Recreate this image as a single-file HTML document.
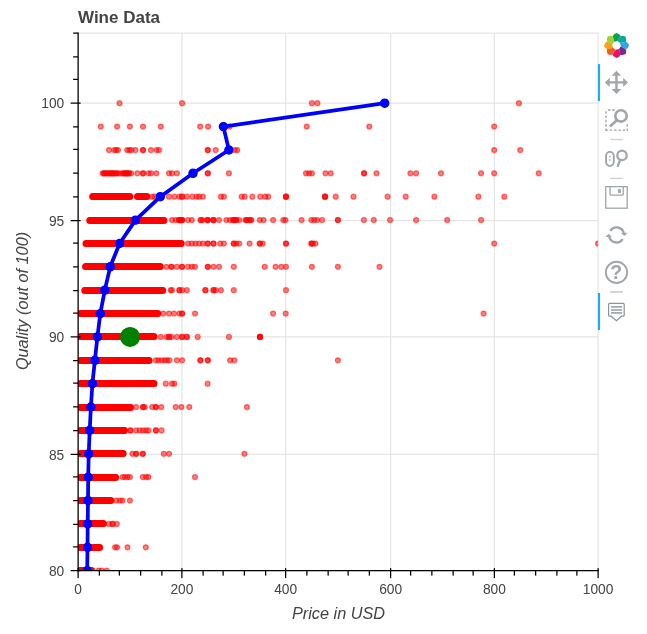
<!DOCTYPE html>
<html lang="en"><head><meta charset="utf-8"><title>Wine Data</title>
<style>html,body{margin:0;padding:0;background:#fff;}body{width:647px;height:634px;overflow:hidden;}svg{display:block;}text{font-family:"Liberation Sans",Arial,Helvetica,sans-serif;fill:#444;}</style></head><body>
<svg width="647" height="634" viewBox="0 0 647 634">
<rect width="647" height="634" fill="#fff"/>
<g stroke="#e5e5e5" stroke-width="1.25" fill="none">
<line x1="181.875" y1="33.125" x2="181.875" y2="570.625"/>
<line x1="285.625" y1="33.125" x2="285.625" y2="570.625"/>
<line x1="390.625" y1="33.125" x2="390.625" y2="570.625"/>
<line x1="494.375" y1="33.125" x2="494.375" y2="570.625"/>
<line x1="78.125" y1="454.375" x2="598.125" y2="454.375"/>
<line x1="78.125" y1="336.875" x2="598.125" y2="336.875"/>
<line x1="78.125" y1="220.625" x2="598.125" y2="220.625"/>
<line x1="78.125" y1="103.125" x2="598.125" y2="103.125"/>
<rect x="78.125" y="33.125" width="520.0" height="537.5"/>
</g>
<defs><filter id="lb" x="-20%" y="-20%" width="140%" height="140%"><feGaussianBlur stdDeviation="0.45"/></filter></defs>
<defs><clipPath id="fr"><rect x="78.125" y="33.125" width="520.0" height="537.5"/></clipPath></defs>
<g clip-path="url(#fr)">
<g fill="#ff0000" fill-opacity="0.5" stroke="#ff0000" stroke-opacity="0.5" stroke-width="1.25">
<circle cx="79.5" cy="570.6" r="2.5"/>
<circle cx="81.0" cy="570.6" r="2.5"/>
<circle cx="82.5" cy="570.6" r="2.5"/>
<circle cx="84.0" cy="570.6" r="2.5"/>
<circle cx="85.6" cy="570.6" r="2.5"/>
<circle cx="87.1" cy="570.6" r="2.5"/>
<circle cx="88.6" cy="570.6" r="2.5"/>
<circle cx="90.1" cy="570.6" r="2.5"/>
<circle cx="91.6" cy="570.6" r="2.5"/>
<circle cx="98.6" cy="570.6" r="2.5"/>
<circle cx="101.7" cy="570.6" r="2.5"/>
<circle cx="106.6" cy="570.6" r="2.5"/>
<circle cx="80.0" cy="547.3" r="2.5"/>
<circle cx="81.5" cy="547.3" r="2.5"/>
<circle cx="83.0" cy="547.3" r="2.5"/>
<circle cx="84.5" cy="547.3" r="2.5"/>
<circle cx="86.0" cy="547.3" r="2.5"/>
<circle cx="87.5" cy="547.3" r="2.5"/>
<circle cx="89.0" cy="547.3" r="2.5"/>
<circle cx="90.6" cy="547.3" r="2.5"/>
<circle cx="92.1" cy="547.3" r="2.5"/>
<circle cx="93.6" cy="547.3" r="2.5"/>
<circle cx="95.1" cy="547.3" r="2.5"/>
<circle cx="96.6" cy="547.3" r="2.5"/>
<circle cx="98.1" cy="547.3" r="2.5"/>
<circle cx="99.6" cy="547.3" r="2.5"/>
<circle cx="115.1" cy="547.3" r="2.5"/>
<circle cx="117.1" cy="547.3" r="2.5"/>
<circle cx="127.5" cy="547.3" r="2.5"/>
<circle cx="145.8" cy="547.3" r="2.5"/>
<circle cx="80.0" cy="523.9" r="2.5"/>
<circle cx="81.4" cy="523.9" r="2.5"/>
<circle cx="82.9" cy="523.9" r="2.5"/>
<circle cx="84.4" cy="523.9" r="2.5"/>
<circle cx="85.8" cy="523.9" r="2.5"/>
<circle cx="87.3" cy="523.9" r="2.5"/>
<circle cx="88.7" cy="523.9" r="2.5"/>
<circle cx="90.2" cy="523.9" r="2.5"/>
<circle cx="91.7" cy="523.9" r="2.5"/>
<circle cx="93.1" cy="523.9" r="2.5"/>
<circle cx="94.6" cy="523.9" r="2.5"/>
<circle cx="96.0" cy="523.9" r="2.5"/>
<circle cx="97.5" cy="523.9" r="2.5"/>
<circle cx="99.0" cy="523.9" r="2.5"/>
<circle cx="100.4" cy="523.9" r="2.5"/>
<circle cx="101.9" cy="523.9" r="2.5"/>
<circle cx="103.3" cy="523.9" r="2.5"/>
<circle cx="108.9" cy="523.9" r="2.5"/>
<circle cx="112.6" cy="523.9" r="2.5"/>
<circle cx="112.6" cy="523.9" r="2.5"/>
<circle cx="116.8" cy="523.9" r="2.5"/>
<circle cx="80.0" cy="500.5" r="2.5"/>
<circle cx="81.4" cy="500.5" r="2.5"/>
<circle cx="82.9" cy="500.5" r="2.5"/>
<circle cx="84.4" cy="500.5" r="2.5"/>
<circle cx="85.8" cy="500.5" r="2.5"/>
<circle cx="87.3" cy="500.5" r="2.5"/>
<circle cx="88.8" cy="500.5" r="2.5"/>
<circle cx="90.2" cy="500.5" r="2.5"/>
<circle cx="91.7" cy="500.5" r="2.5"/>
<circle cx="93.2" cy="500.5" r="2.5"/>
<circle cx="94.6" cy="500.5" r="2.5"/>
<circle cx="96.1" cy="500.5" r="2.5"/>
<circle cx="97.6" cy="500.5" r="2.5"/>
<circle cx="99.0" cy="500.5" r="2.5"/>
<circle cx="100.5" cy="500.5" r="2.5"/>
<circle cx="102.0" cy="500.5" r="2.5"/>
<circle cx="103.4" cy="500.5" r="2.5"/>
<circle cx="104.9" cy="500.5" r="2.5"/>
<circle cx="106.4" cy="500.5" r="2.5"/>
<circle cx="107.8" cy="500.5" r="2.5"/>
<circle cx="109.3" cy="500.5" r="2.5"/>
<circle cx="110.8" cy="500.5" r="2.5"/>
<circle cx="116.3" cy="500.5" r="2.5"/>
<circle cx="120.0" cy="500.5" r="2.5"/>
<circle cx="122.5" cy="500.5" r="2.5"/>
<circle cx="129.9" cy="500.5" r="2.5"/>
<circle cx="80.0" cy="477.1" r="2.5"/>
<circle cx="81.5" cy="477.1" r="2.5"/>
<circle cx="83.0" cy="477.1" r="2.5"/>
<circle cx="84.4" cy="477.1" r="2.5"/>
<circle cx="85.9" cy="477.1" r="2.5"/>
<circle cx="87.4" cy="477.1" r="2.5"/>
<circle cx="88.9" cy="477.1" r="2.5"/>
<circle cx="90.4" cy="477.1" r="2.5"/>
<circle cx="91.9" cy="477.1" r="2.5"/>
<circle cx="93.4" cy="477.1" r="2.5"/>
<circle cx="94.9" cy="477.1" r="2.5"/>
<circle cx="96.4" cy="477.1" r="2.5"/>
<circle cx="97.8" cy="477.1" r="2.5"/>
<circle cx="99.3" cy="477.1" r="2.5"/>
<circle cx="100.8" cy="477.1" r="2.5"/>
<circle cx="102.3" cy="477.1" r="2.5"/>
<circle cx="103.8" cy="477.1" r="2.5"/>
<circle cx="105.3" cy="477.1" r="2.5"/>
<circle cx="106.8" cy="477.1" r="2.5"/>
<circle cx="108.3" cy="477.1" r="2.5"/>
<circle cx="109.7" cy="477.1" r="2.5"/>
<circle cx="111.2" cy="477.1" r="2.5"/>
<circle cx="112.7" cy="477.1" r="2.5"/>
<circle cx="114.2" cy="477.1" r="2.5"/>
<circle cx="115.7" cy="477.1" r="2.5"/>
<circle cx="122.5" cy="477.1" r="2.5"/>
<circle cx="125.0" cy="477.1" r="2.5"/>
<circle cx="127.5" cy="477.1" r="2.5"/>
<circle cx="129.9" cy="477.1" r="2.5"/>
<circle cx="142.8" cy="477.1" r="2.5"/>
<circle cx="146.0" cy="477.1" r="2.5"/>
<circle cx="148.5" cy="477.1" r="2.5"/>
<circle cx="195.0" cy="477.1" r="2.5"/>
<circle cx="80.0" cy="453.8" r="2.5"/>
<circle cx="81.5" cy="453.8" r="2.5"/>
<circle cx="83.0" cy="453.8" r="2.5"/>
<circle cx="84.4" cy="453.8" r="2.5"/>
<circle cx="85.9" cy="453.8" r="2.5"/>
<circle cx="87.4" cy="453.8" r="2.5"/>
<circle cx="88.9" cy="453.8" r="2.5"/>
<circle cx="90.4" cy="453.8" r="2.5"/>
<circle cx="91.9" cy="453.8" r="2.5"/>
<circle cx="93.4" cy="453.8" r="2.5"/>
<circle cx="94.9" cy="453.8" r="2.5"/>
<circle cx="96.3" cy="453.8" r="2.5"/>
<circle cx="97.8" cy="453.8" r="2.5"/>
<circle cx="99.3" cy="453.8" r="2.5"/>
<circle cx="100.8" cy="453.8" r="2.5"/>
<circle cx="102.3" cy="453.8" r="2.5"/>
<circle cx="103.8" cy="453.8" r="2.5"/>
<circle cx="105.3" cy="453.8" r="2.5"/>
<circle cx="106.8" cy="453.8" r="2.5"/>
<circle cx="108.2" cy="453.8" r="2.5"/>
<circle cx="109.7" cy="453.8" r="2.5"/>
<circle cx="111.2" cy="453.8" r="2.5"/>
<circle cx="112.7" cy="453.8" r="2.5"/>
<circle cx="114.2" cy="453.8" r="2.5"/>
<circle cx="115.7" cy="453.8" r="2.5"/>
<circle cx="117.2" cy="453.8" r="2.5"/>
<circle cx="118.7" cy="453.8" r="2.5"/>
<circle cx="120.1" cy="453.8" r="2.5"/>
<circle cx="121.6" cy="453.8" r="2.5"/>
<circle cx="123.1" cy="453.8" r="2.5"/>
<circle cx="132.4" cy="453.8" r="2.5"/>
<circle cx="136.1" cy="453.8" r="2.5"/>
<circle cx="136.1" cy="453.8" r="2.5"/>
<circle cx="142.8" cy="453.8" r="2.5"/>
<circle cx="142.8" cy="453.8" r="2.5"/>
<circle cx="163.8" cy="453.8" r="2.5"/>
<circle cx="169.0" cy="453.8" r="2.5"/>
<circle cx="244.4" cy="453.8" r="2.5"/>
<circle cx="80.0" cy="430.4" r="2.5"/>
<circle cx="81.5" cy="430.4" r="2.5"/>
<circle cx="82.9" cy="430.4" r="2.5"/>
<circle cx="84.4" cy="430.4" r="2.5"/>
<circle cx="85.9" cy="430.4" r="2.5"/>
<circle cx="87.4" cy="430.4" r="2.5"/>
<circle cx="88.9" cy="430.4" r="2.5"/>
<circle cx="90.3" cy="430.4" r="2.5"/>
<circle cx="91.8" cy="430.4" r="2.5"/>
<circle cx="93.3" cy="430.4" r="2.5"/>
<circle cx="94.8" cy="430.4" r="2.5"/>
<circle cx="96.3" cy="430.4" r="2.5"/>
<circle cx="97.7" cy="430.4" r="2.5"/>
<circle cx="99.2" cy="430.4" r="2.5"/>
<circle cx="100.7" cy="430.4" r="2.5"/>
<circle cx="102.2" cy="430.4" r="2.5"/>
<circle cx="103.6" cy="430.4" r="2.5"/>
<circle cx="105.1" cy="430.4" r="2.5"/>
<circle cx="106.6" cy="430.4" r="2.5"/>
<circle cx="108.1" cy="430.4" r="2.5"/>
<circle cx="109.6" cy="430.4" r="2.5"/>
<circle cx="111.0" cy="430.4" r="2.5"/>
<circle cx="112.5" cy="430.4" r="2.5"/>
<circle cx="114.0" cy="430.4" r="2.5"/>
<circle cx="115.5" cy="430.4" r="2.5"/>
<circle cx="117.0" cy="430.4" r="2.5"/>
<circle cx="118.4" cy="430.4" r="2.5"/>
<circle cx="119.9" cy="430.4" r="2.5"/>
<circle cx="121.4" cy="430.4" r="2.5"/>
<circle cx="122.9" cy="430.4" r="2.5"/>
<circle cx="124.4" cy="430.4" r="2.5"/>
<circle cx="130.4" cy="430.4" r="2.5"/>
<circle cx="130.4" cy="430.4" r="2.5"/>
<circle cx="136.1" cy="430.4" r="2.5"/>
<circle cx="139.8" cy="430.4" r="2.5"/>
<circle cx="143.0" cy="430.4" r="2.5"/>
<circle cx="146.0" cy="430.4" r="2.5"/>
<circle cx="148.5" cy="430.4" r="2.5"/>
<circle cx="155.9" cy="430.4" r="2.5"/>
<circle cx="155.9" cy="430.4" r="2.5"/>
<circle cx="161.6" cy="430.4" r="2.5"/>
<circle cx="80.0" cy="407.0" r="2.5"/>
<circle cx="81.5" cy="407.0" r="2.5"/>
<circle cx="83.0" cy="407.0" r="2.5"/>
<circle cx="84.4" cy="407.0" r="2.5"/>
<circle cx="85.9" cy="407.0" r="2.5"/>
<circle cx="87.4" cy="407.0" r="2.5"/>
<circle cx="88.9" cy="407.0" r="2.5"/>
<circle cx="90.4" cy="407.0" r="2.5"/>
<circle cx="91.9" cy="407.0" r="2.5"/>
<circle cx="93.4" cy="407.0" r="2.5"/>
<circle cx="94.8" cy="407.0" r="2.5"/>
<circle cx="96.3" cy="407.0" r="2.5"/>
<circle cx="97.8" cy="407.0" r="2.5"/>
<circle cx="99.3" cy="407.0" r="2.5"/>
<circle cx="100.8" cy="407.0" r="2.5"/>
<circle cx="102.3" cy="407.0" r="2.5"/>
<circle cx="103.8" cy="407.0" r="2.5"/>
<circle cx="105.3" cy="407.0" r="2.5"/>
<circle cx="106.7" cy="407.0" r="2.5"/>
<circle cx="108.2" cy="407.0" r="2.5"/>
<circle cx="109.7" cy="407.0" r="2.5"/>
<circle cx="111.2" cy="407.0" r="2.5"/>
<circle cx="112.7" cy="407.0" r="2.5"/>
<circle cx="114.2" cy="407.0" r="2.5"/>
<circle cx="115.7" cy="407.0" r="2.5"/>
<circle cx="117.2" cy="407.0" r="2.5"/>
<circle cx="118.6" cy="407.0" r="2.5"/>
<circle cx="120.1" cy="407.0" r="2.5"/>
<circle cx="121.6" cy="407.0" r="2.5"/>
<circle cx="123.1" cy="407.0" r="2.5"/>
<circle cx="124.6" cy="407.0" r="2.5"/>
<circle cx="126.1" cy="407.0" r="2.5"/>
<circle cx="127.6" cy="407.0" r="2.5"/>
<circle cx="129.1" cy="407.0" r="2.5"/>
<circle cx="130.5" cy="407.0" r="2.5"/>
<circle cx="136.1" cy="407.0" r="2.5"/>
<circle cx="143.0" cy="407.0" r="2.5"/>
<circle cx="143.0" cy="407.0" r="2.5"/>
<circle cx="144.8" cy="407.0" r="2.5"/>
<circle cx="152.2" cy="407.0" r="2.5"/>
<circle cx="155.9" cy="407.0" r="2.5"/>
<circle cx="155.9" cy="407.0" r="2.5"/>
<circle cx="161.3" cy="407.0" r="2.5"/>
<circle cx="175.7" cy="407.0" r="2.5"/>
<circle cx="181.4" cy="407.0" r="2.5"/>
<circle cx="189.3" cy="407.0" r="2.5"/>
<circle cx="246.9" cy="407.0" r="2.5"/>
<circle cx="80.0" cy="383.7" r="2.5"/>
<circle cx="81.5" cy="383.7" r="2.5"/>
<circle cx="83.0" cy="383.7" r="2.5"/>
<circle cx="84.5" cy="383.7" r="2.5"/>
<circle cx="86.0" cy="383.7" r="2.5"/>
<circle cx="87.5" cy="383.7" r="2.5"/>
<circle cx="89.0" cy="383.7" r="2.5"/>
<circle cx="90.6" cy="383.7" r="2.5"/>
<circle cx="92.1" cy="383.7" r="2.5"/>
<circle cx="93.6" cy="383.7" r="2.5"/>
<circle cx="95.1" cy="383.7" r="2.5"/>
<circle cx="96.6" cy="383.7" r="2.5"/>
<circle cx="98.1" cy="383.7" r="2.5"/>
<circle cx="99.6" cy="383.7" r="2.5"/>
<circle cx="101.1" cy="383.7" r="2.5"/>
<circle cx="102.6" cy="383.7" r="2.5"/>
<circle cx="104.2" cy="383.7" r="2.5"/>
<circle cx="105.7" cy="383.7" r="2.5"/>
<circle cx="107.2" cy="383.7" r="2.5"/>
<circle cx="108.7" cy="383.7" r="2.5"/>
<circle cx="110.2" cy="383.7" r="2.5"/>
<circle cx="111.7" cy="383.7" r="2.5"/>
<circle cx="113.2" cy="383.7" r="2.5"/>
<circle cx="114.7" cy="383.7" r="2.5"/>
<circle cx="116.3" cy="383.7" r="2.5"/>
<circle cx="117.8" cy="383.7" r="2.5"/>
<circle cx="119.3" cy="383.7" r="2.5"/>
<circle cx="120.8" cy="383.7" r="2.5"/>
<circle cx="122.3" cy="383.7" r="2.5"/>
<circle cx="123.8" cy="383.7" r="2.5"/>
<circle cx="125.3" cy="383.7" r="2.5"/>
<circle cx="126.8" cy="383.7" r="2.5"/>
<circle cx="128.3" cy="383.7" r="2.5"/>
<circle cx="129.9" cy="383.7" r="2.5"/>
<circle cx="131.4" cy="383.7" r="2.5"/>
<circle cx="132.9" cy="383.7" r="2.5"/>
<circle cx="134.4" cy="383.7" r="2.5"/>
<circle cx="135.9" cy="383.7" r="2.5"/>
<circle cx="137.4" cy="383.7" r="2.5"/>
<circle cx="138.9" cy="383.7" r="2.5"/>
<circle cx="140.4" cy="383.7" r="2.5"/>
<circle cx="141.9" cy="383.7" r="2.5"/>
<circle cx="143.5" cy="383.7" r="2.5"/>
<circle cx="145.0" cy="383.7" r="2.5"/>
<circle cx="146.5" cy="383.7" r="2.5"/>
<circle cx="148.0" cy="383.7" r="2.5"/>
<circle cx="149.5" cy="383.7" r="2.5"/>
<circle cx="151.0" cy="383.7" r="2.5"/>
<circle cx="152.5" cy="383.7" r="2.5"/>
<circle cx="154.0" cy="383.7" r="2.5"/>
<circle cx="165.8" cy="383.7" r="2.5"/>
<circle cx="172.0" cy="383.7" r="2.5"/>
<circle cx="174.4" cy="383.7" r="2.5"/>
<circle cx="207.6" cy="383.7" r="2.5"/>
<circle cx="80.0" cy="360.3" r="2.5"/>
<circle cx="81.5" cy="360.3" r="2.5"/>
<circle cx="83.0" cy="360.3" r="2.5"/>
<circle cx="84.5" cy="360.3" r="2.5"/>
<circle cx="86.0" cy="360.3" r="2.5"/>
<circle cx="87.5" cy="360.3" r="2.5"/>
<circle cx="89.0" cy="360.3" r="2.5"/>
<circle cx="90.5" cy="360.3" r="2.5"/>
<circle cx="92.0" cy="360.3" r="2.5"/>
<circle cx="93.5" cy="360.3" r="2.5"/>
<circle cx="95.0" cy="360.3" r="2.5"/>
<circle cx="96.5" cy="360.3" r="2.5"/>
<circle cx="98.0" cy="360.3" r="2.5"/>
<circle cx="99.5" cy="360.3" r="2.5"/>
<circle cx="101.0" cy="360.3" r="2.5"/>
<circle cx="102.5" cy="360.3" r="2.5"/>
<circle cx="104.0" cy="360.3" r="2.5"/>
<circle cx="105.5" cy="360.3" r="2.5"/>
<circle cx="107.0" cy="360.3" r="2.5"/>
<circle cx="108.5" cy="360.3" r="2.5"/>
<circle cx="110.0" cy="360.3" r="2.5"/>
<circle cx="111.5" cy="360.3" r="2.5"/>
<circle cx="113.0" cy="360.3" r="2.5"/>
<circle cx="114.5" cy="360.3" r="2.5"/>
<circle cx="116.0" cy="360.3" r="2.5"/>
<circle cx="117.5" cy="360.3" r="2.5"/>
<circle cx="119.0" cy="360.3" r="2.5"/>
<circle cx="120.5" cy="360.3" r="2.5"/>
<circle cx="122.0" cy="360.3" r="2.5"/>
<circle cx="123.5" cy="360.3" r="2.5"/>
<circle cx="125.1" cy="360.3" r="2.5"/>
<circle cx="126.6" cy="360.3" r="2.5"/>
<circle cx="128.1" cy="360.3" r="2.5"/>
<circle cx="129.6" cy="360.3" r="2.5"/>
<circle cx="131.1" cy="360.3" r="2.5"/>
<circle cx="132.6" cy="360.3" r="2.5"/>
<circle cx="134.1" cy="360.3" r="2.5"/>
<circle cx="135.6" cy="360.3" r="2.5"/>
<circle cx="137.1" cy="360.3" r="2.5"/>
<circle cx="138.6" cy="360.3" r="2.5"/>
<circle cx="140.1" cy="360.3" r="2.5"/>
<circle cx="141.6" cy="360.3" r="2.5"/>
<circle cx="143.1" cy="360.3" r="2.5"/>
<circle cx="144.6" cy="360.3" r="2.5"/>
<circle cx="146.1" cy="360.3" r="2.5"/>
<circle cx="147.6" cy="360.3" r="2.5"/>
<circle cx="149.1" cy="360.3" r="2.5"/>
<circle cx="155.9" cy="360.3" r="2.5"/>
<circle cx="158.4" cy="360.3" r="2.5"/>
<circle cx="161.6" cy="360.3" r="2.5"/>
<circle cx="164.6" cy="360.3" r="2.5"/>
<circle cx="167.0" cy="360.3" r="2.5"/>
<circle cx="169.5" cy="360.3" r="2.5"/>
<circle cx="176.9" cy="360.3" r="2.5"/>
<circle cx="182.1" cy="360.3" r="2.5"/>
<circle cx="200.4" cy="360.3" r="2.5"/>
<circle cx="200.4" cy="360.3" r="2.5"/>
<circle cx="207.8" cy="360.3" r="2.5"/>
<circle cx="207.8" cy="360.3" r="2.5"/>
<circle cx="230.1" cy="360.3" r="2.5"/>
<circle cx="234.3" cy="360.3" r="2.5"/>
<circle cx="337.9" cy="360.3" r="2.5"/>
<circle cx="80.0" cy="336.9" r="2.5"/>
<circle cx="81.5" cy="336.9" r="2.5"/>
<circle cx="83.0" cy="336.9" r="2.5"/>
<circle cx="84.5" cy="336.9" r="2.5"/>
<circle cx="86.0" cy="336.9" r="2.5"/>
<circle cx="87.5" cy="336.9" r="2.5"/>
<circle cx="89.0" cy="336.9" r="2.5"/>
<circle cx="90.6" cy="336.9" r="2.5"/>
<circle cx="92.1" cy="336.9" r="2.5"/>
<circle cx="93.6" cy="336.9" r="2.5"/>
<circle cx="95.1" cy="336.9" r="2.5"/>
<circle cx="96.6" cy="336.9" r="2.5"/>
<circle cx="98.1" cy="336.9" r="2.5"/>
<circle cx="99.6" cy="336.9" r="2.5"/>
<circle cx="101.1" cy="336.9" r="2.5"/>
<circle cx="102.6" cy="336.9" r="2.5"/>
<circle cx="104.2" cy="336.9" r="2.5"/>
<circle cx="105.7" cy="336.9" r="2.5"/>
<circle cx="107.2" cy="336.9" r="2.5"/>
<circle cx="108.7" cy="336.9" r="2.5"/>
<circle cx="110.2" cy="336.9" r="2.5"/>
<circle cx="111.7" cy="336.9" r="2.5"/>
<circle cx="113.2" cy="336.9" r="2.5"/>
<circle cx="114.7" cy="336.9" r="2.5"/>
<circle cx="116.3" cy="336.9" r="2.5"/>
<circle cx="117.8" cy="336.9" r="2.5"/>
<circle cx="119.3" cy="336.9" r="2.5"/>
<circle cx="120.8" cy="336.9" r="2.5"/>
<circle cx="122.3" cy="336.9" r="2.5"/>
<circle cx="123.8" cy="336.9" r="2.5"/>
<circle cx="125.3" cy="336.9" r="2.5"/>
<circle cx="126.8" cy="336.9" r="2.5"/>
<circle cx="128.3" cy="336.9" r="2.5"/>
<circle cx="129.9" cy="336.9" r="2.5"/>
<circle cx="131.4" cy="336.9" r="2.5"/>
<circle cx="132.9" cy="336.9" r="2.5"/>
<circle cx="134.4" cy="336.9" r="2.5"/>
<circle cx="135.9" cy="336.9" r="2.5"/>
<circle cx="137.4" cy="336.9" r="2.5"/>
<circle cx="138.9" cy="336.9" r="2.5"/>
<circle cx="140.4" cy="336.9" r="2.5"/>
<circle cx="141.9" cy="336.9" r="2.5"/>
<circle cx="143.5" cy="336.9" r="2.5"/>
<circle cx="145.0" cy="336.9" r="2.5"/>
<circle cx="146.5" cy="336.9" r="2.5"/>
<circle cx="148.0" cy="336.9" r="2.5"/>
<circle cx="149.5" cy="336.9" r="2.5"/>
<circle cx="151.0" cy="336.9" r="2.5"/>
<circle cx="152.5" cy="336.9" r="2.5"/>
<circle cx="154.0" cy="336.9" r="2.5"/>
<circle cx="160.8" cy="336.9" r="2.5"/>
<circle cx="166.5" cy="336.9" r="2.5"/>
<circle cx="169.0" cy="336.9" r="2.5"/>
<circle cx="169.0" cy="336.9" r="2.5"/>
<circle cx="171.5" cy="336.9" r="2.5"/>
<circle cx="176.9" cy="336.9" r="2.5"/>
<circle cx="182.1" cy="336.9" r="2.5"/>
<circle cx="182.1" cy="336.9" r="2.5"/>
<circle cx="186.8" cy="336.9" r="2.5"/>
<circle cx="186.8" cy="336.9" r="2.5"/>
<circle cx="197.7" cy="336.9" r="2.5"/>
<circle cx="228.9" cy="336.9" r="2.5"/>
<circle cx="260.0" cy="336.9" r="2.5"/>
<circle cx="260.0" cy="336.9" r="2.5"/>
<circle cx="260.0" cy="336.9" r="2.5"/>
<circle cx="260.0" cy="336.9" r="2.5"/>
<circle cx="80.0" cy="313.6" r="2.5"/>
<circle cx="81.5" cy="313.6" r="2.5"/>
<circle cx="83.0" cy="313.6" r="2.5"/>
<circle cx="84.5" cy="313.6" r="2.5"/>
<circle cx="86.0" cy="313.6" r="2.5"/>
<circle cx="87.5" cy="313.6" r="2.5"/>
<circle cx="89.0" cy="313.6" r="2.5"/>
<circle cx="90.4" cy="313.6" r="2.5"/>
<circle cx="91.9" cy="313.6" r="2.5"/>
<circle cx="93.4" cy="313.6" r="2.5"/>
<circle cx="94.9" cy="313.6" r="2.5"/>
<circle cx="96.4" cy="313.6" r="2.5"/>
<circle cx="97.9" cy="313.6" r="2.5"/>
<circle cx="99.4" cy="313.6" r="2.5"/>
<circle cx="100.9" cy="313.6" r="2.5"/>
<circle cx="102.4" cy="313.6" r="2.5"/>
<circle cx="103.9" cy="313.6" r="2.5"/>
<circle cx="105.4" cy="313.6" r="2.5"/>
<circle cx="106.9" cy="313.6" r="2.5"/>
<circle cx="108.4" cy="313.6" r="2.5"/>
<circle cx="109.9" cy="313.6" r="2.5"/>
<circle cx="111.4" cy="313.6" r="2.5"/>
<circle cx="112.9" cy="313.6" r="2.5"/>
<circle cx="114.4" cy="313.6" r="2.5"/>
<circle cx="115.9" cy="313.6" r="2.5"/>
<circle cx="117.4" cy="313.6" r="2.5"/>
<circle cx="118.9" cy="313.6" r="2.5"/>
<circle cx="120.4" cy="313.6" r="2.5"/>
<circle cx="121.9" cy="313.6" r="2.5"/>
<circle cx="123.3" cy="313.6" r="2.5"/>
<circle cx="124.8" cy="313.6" r="2.5"/>
<circle cx="126.3" cy="313.6" r="2.5"/>
<circle cx="127.8" cy="313.6" r="2.5"/>
<circle cx="129.3" cy="313.6" r="2.5"/>
<circle cx="130.8" cy="313.6" r="2.5"/>
<circle cx="132.3" cy="313.6" r="2.5"/>
<circle cx="133.8" cy="313.6" r="2.5"/>
<circle cx="135.3" cy="313.6" r="2.5"/>
<circle cx="136.8" cy="313.6" r="2.5"/>
<circle cx="138.3" cy="313.6" r="2.5"/>
<circle cx="139.8" cy="313.6" r="2.5"/>
<circle cx="141.3" cy="313.6" r="2.5"/>
<circle cx="142.8" cy="313.6" r="2.5"/>
<circle cx="144.3" cy="313.6" r="2.5"/>
<circle cx="145.8" cy="313.6" r="2.5"/>
<circle cx="147.3" cy="313.6" r="2.5"/>
<circle cx="148.8" cy="313.6" r="2.5"/>
<circle cx="150.3" cy="313.6" r="2.5"/>
<circle cx="151.8" cy="313.6" r="2.5"/>
<circle cx="153.3" cy="313.6" r="2.5"/>
<circle cx="154.8" cy="313.6" r="2.5"/>
<circle cx="156.2" cy="313.6" r="2.5"/>
<circle cx="157.7" cy="313.6" r="2.5"/>
<circle cx="163.3" cy="313.6" r="2.5"/>
<circle cx="169.0" cy="313.6" r="2.5"/>
<circle cx="174.0" cy="313.6" r="2.5"/>
<circle cx="179.4" cy="313.6" r="2.5"/>
<circle cx="182.1" cy="313.6" r="2.5"/>
<circle cx="182.1" cy="313.6" r="2.5"/>
<circle cx="195.0" cy="313.6" r="2.5"/>
<circle cx="273.1" cy="313.6" r="2.5"/>
<circle cx="285.7" cy="313.6" r="2.5"/>
<circle cx="483.6" cy="313.6" r="2.5"/>
<circle cx="84.8" cy="290.2" r="2.5"/>
<circle cx="86.3" cy="290.2" r="2.5"/>
<circle cx="87.8" cy="290.2" r="2.5"/>
<circle cx="89.3" cy="290.2" r="2.5"/>
<circle cx="90.8" cy="290.2" r="2.5"/>
<circle cx="92.3" cy="290.2" r="2.5"/>
<circle cx="93.8" cy="290.2" r="2.5"/>
<circle cx="95.3" cy="290.2" r="2.5"/>
<circle cx="96.8" cy="290.2" r="2.5"/>
<circle cx="98.3" cy="290.2" r="2.5"/>
<circle cx="99.8" cy="290.2" r="2.5"/>
<circle cx="101.3" cy="290.2" r="2.5"/>
<circle cx="102.8" cy="290.2" r="2.5"/>
<circle cx="104.3" cy="290.2" r="2.5"/>
<circle cx="105.8" cy="290.2" r="2.5"/>
<circle cx="107.3" cy="290.2" r="2.5"/>
<circle cx="108.8" cy="290.2" r="2.5"/>
<circle cx="110.3" cy="290.2" r="2.5"/>
<circle cx="111.8" cy="290.2" r="2.5"/>
<circle cx="113.3" cy="290.2" r="2.5"/>
<circle cx="114.8" cy="290.2" r="2.5"/>
<circle cx="116.3" cy="290.2" r="2.5"/>
<circle cx="117.8" cy="290.2" r="2.5"/>
<circle cx="119.3" cy="290.2" r="2.5"/>
<circle cx="120.8" cy="290.2" r="2.5"/>
<circle cx="122.3" cy="290.2" r="2.5"/>
<circle cx="123.7" cy="290.2" r="2.5"/>
<circle cx="125.2" cy="290.2" r="2.5"/>
<circle cx="126.7" cy="290.2" r="2.5"/>
<circle cx="128.2" cy="290.2" r="2.5"/>
<circle cx="129.7" cy="290.2" r="2.5"/>
<circle cx="131.2" cy="290.2" r="2.5"/>
<circle cx="132.7" cy="290.2" r="2.5"/>
<circle cx="134.2" cy="290.2" r="2.5"/>
<circle cx="135.7" cy="290.2" r="2.5"/>
<circle cx="137.2" cy="290.2" r="2.5"/>
<circle cx="138.7" cy="290.2" r="2.5"/>
<circle cx="140.2" cy="290.2" r="2.5"/>
<circle cx="141.7" cy="290.2" r="2.5"/>
<circle cx="143.2" cy="290.2" r="2.5"/>
<circle cx="144.7" cy="290.2" r="2.5"/>
<circle cx="146.2" cy="290.2" r="2.5"/>
<circle cx="147.7" cy="290.2" r="2.5"/>
<circle cx="149.2" cy="290.2" r="2.5"/>
<circle cx="150.7" cy="290.2" r="2.5"/>
<circle cx="152.2" cy="290.2" r="2.5"/>
<circle cx="153.7" cy="290.2" r="2.5"/>
<circle cx="155.2" cy="290.2" r="2.5"/>
<circle cx="156.7" cy="290.2" r="2.5"/>
<circle cx="158.2" cy="290.2" r="2.5"/>
<circle cx="159.7" cy="290.2" r="2.5"/>
<circle cx="161.2" cy="290.2" r="2.5"/>
<circle cx="162.7" cy="290.2" r="2.5"/>
<circle cx="170.7" cy="290.2" r="2.5"/>
<circle cx="172.0" cy="290.2" r="2.5"/>
<circle cx="179.4" cy="290.2" r="2.5"/>
<circle cx="179.4" cy="290.2" r="2.5"/>
<circle cx="182.1" cy="290.2" r="2.5"/>
<circle cx="186.8" cy="290.2" r="2.5"/>
<circle cx="205.4" cy="290.2" r="2.5"/>
<circle cx="205.4" cy="290.2" r="2.5"/>
<circle cx="213.5" cy="290.2" r="2.5"/>
<circle cx="213.5" cy="290.2" r="2.5"/>
<circle cx="215.7" cy="290.2" r="2.5"/>
<circle cx="220.9" cy="290.2" r="2.5"/>
<circle cx="233.8" cy="290.2" r="2.5"/>
<circle cx="286.0" cy="290.2" r="2.5"/>
<circle cx="85.6" cy="266.8" r="2.5"/>
<circle cx="87.0" cy="266.8" r="2.5"/>
<circle cx="88.5" cy="266.8" r="2.5"/>
<circle cx="90.0" cy="266.8" r="2.5"/>
<circle cx="91.5" cy="266.8" r="2.5"/>
<circle cx="93.0" cy="266.8" r="2.5"/>
<circle cx="94.5" cy="266.8" r="2.5"/>
<circle cx="96.0" cy="266.8" r="2.5"/>
<circle cx="97.5" cy="266.8" r="2.5"/>
<circle cx="99.0" cy="266.8" r="2.5"/>
<circle cx="100.5" cy="266.8" r="2.5"/>
<circle cx="102.0" cy="266.8" r="2.5"/>
<circle cx="103.5" cy="266.8" r="2.5"/>
<circle cx="105.0" cy="266.8" r="2.5"/>
<circle cx="106.5" cy="266.8" r="2.5"/>
<circle cx="108.0" cy="266.8" r="2.5"/>
<circle cx="109.4" cy="266.8" r="2.5"/>
<circle cx="110.9" cy="266.8" r="2.5"/>
<circle cx="112.4" cy="266.8" r="2.5"/>
<circle cx="113.9" cy="266.8" r="2.5"/>
<circle cx="115.4" cy="266.8" r="2.5"/>
<circle cx="116.9" cy="266.8" r="2.5"/>
<circle cx="118.4" cy="266.8" r="2.5"/>
<circle cx="119.9" cy="266.8" r="2.5"/>
<circle cx="121.4" cy="266.8" r="2.5"/>
<circle cx="122.9" cy="266.8" r="2.5"/>
<circle cx="124.4" cy="266.8" r="2.5"/>
<circle cx="125.9" cy="266.8" r="2.5"/>
<circle cx="127.4" cy="266.8" r="2.5"/>
<circle cx="128.9" cy="266.8" r="2.5"/>
<circle cx="130.4" cy="266.8" r="2.5"/>
<circle cx="131.8" cy="266.8" r="2.5"/>
<circle cx="133.3" cy="266.8" r="2.5"/>
<circle cx="134.8" cy="266.8" r="2.5"/>
<circle cx="136.3" cy="266.8" r="2.5"/>
<circle cx="137.8" cy="266.8" r="2.5"/>
<circle cx="139.3" cy="266.8" r="2.5"/>
<circle cx="140.8" cy="266.8" r="2.5"/>
<circle cx="142.3" cy="266.8" r="2.5"/>
<circle cx="143.8" cy="266.8" r="2.5"/>
<circle cx="145.3" cy="266.8" r="2.5"/>
<circle cx="146.8" cy="266.8" r="2.5"/>
<circle cx="148.3" cy="266.8" r="2.5"/>
<circle cx="149.8" cy="266.8" r="2.5"/>
<circle cx="151.3" cy="266.8" r="2.5"/>
<circle cx="152.8" cy="266.8" r="2.5"/>
<circle cx="154.2" cy="266.8" r="2.5"/>
<circle cx="155.7" cy="266.8" r="2.5"/>
<circle cx="157.2" cy="266.8" r="2.5"/>
<circle cx="158.7" cy="266.8" r="2.5"/>
<circle cx="160.2" cy="266.8" r="2.5"/>
<circle cx="166.5" cy="266.8" r="2.5"/>
<circle cx="171.5" cy="266.8" r="2.5"/>
<circle cx="171.5" cy="266.8" r="2.5"/>
<circle cx="176.9" cy="266.8" r="2.5"/>
<circle cx="182.1" cy="266.8" r="2.5"/>
<circle cx="182.1" cy="266.8" r="2.5"/>
<circle cx="188.0" cy="266.8" r="2.5"/>
<circle cx="191.8" cy="266.8" r="2.5"/>
<circle cx="195.0" cy="266.8" r="2.5"/>
<circle cx="207.8" cy="266.8" r="2.5"/>
<circle cx="207.8" cy="266.8" r="2.5"/>
<circle cx="213.5" cy="266.8" r="2.5"/>
<circle cx="219.0" cy="266.8" r="2.5"/>
<circle cx="233.8" cy="266.8" r="2.5"/>
<circle cx="264.7" cy="266.8" r="2.5"/>
<circle cx="275.6" cy="266.8" r="2.5"/>
<circle cx="281.3" cy="266.8" r="2.5"/>
<circle cx="286.0" cy="266.8" r="2.5"/>
<circle cx="311.9" cy="266.8" r="2.5"/>
<circle cx="337.9" cy="266.8" r="2.5"/>
<circle cx="379.5" cy="266.8" r="2.5"/>
<circle cx="86.0" cy="243.5" r="2.5"/>
<circle cx="87.6" cy="243.5" r="2.5"/>
<circle cx="89.1" cy="243.5" r="2.5"/>
<circle cx="90.6" cy="243.5" r="2.5"/>
<circle cx="92.1" cy="243.5" r="2.5"/>
<circle cx="93.6" cy="243.5" r="2.5"/>
<circle cx="95.1" cy="243.5" r="2.5"/>
<circle cx="96.6" cy="243.5" r="2.5"/>
<circle cx="98.1" cy="243.5" r="2.5"/>
<circle cx="99.6" cy="243.5" r="2.5"/>
<circle cx="101.2" cy="243.5" r="2.5"/>
<circle cx="102.7" cy="243.5" r="2.5"/>
<circle cx="104.2" cy="243.5" r="2.5"/>
<circle cx="105.7" cy="243.5" r="2.5"/>
<circle cx="107.2" cy="243.5" r="2.5"/>
<circle cx="108.7" cy="243.5" r="2.5"/>
<circle cx="110.2" cy="243.5" r="2.5"/>
<circle cx="111.7" cy="243.5" r="2.5"/>
<circle cx="113.2" cy="243.5" r="2.5"/>
<circle cx="114.8" cy="243.5" r="2.5"/>
<circle cx="116.3" cy="243.5" r="2.5"/>
<circle cx="117.8" cy="243.5" r="2.5"/>
<circle cx="119.3" cy="243.5" r="2.5"/>
<circle cx="120.8" cy="243.5" r="2.5"/>
<circle cx="122.3" cy="243.5" r="2.5"/>
<circle cx="123.8" cy="243.5" r="2.5"/>
<circle cx="125.3" cy="243.5" r="2.5"/>
<circle cx="126.8" cy="243.5" r="2.5"/>
<circle cx="128.4" cy="243.5" r="2.5"/>
<circle cx="129.9" cy="243.5" r="2.5"/>
<circle cx="131.4" cy="243.5" r="2.5"/>
<circle cx="132.9" cy="243.5" r="2.5"/>
<circle cx="134.4" cy="243.5" r="2.5"/>
<circle cx="135.9" cy="243.5" r="2.5"/>
<circle cx="137.4" cy="243.5" r="2.5"/>
<circle cx="138.9" cy="243.5" r="2.5"/>
<circle cx="140.4" cy="243.5" r="2.5"/>
<circle cx="142.0" cy="243.5" r="2.5"/>
<circle cx="143.5" cy="243.5" r="2.5"/>
<circle cx="145.0" cy="243.5" r="2.5"/>
<circle cx="146.5" cy="243.5" r="2.5"/>
<circle cx="148.0" cy="243.5" r="2.5"/>
<circle cx="149.5" cy="243.5" r="2.5"/>
<circle cx="151.0" cy="243.5" r="2.5"/>
<circle cx="152.5" cy="243.5" r="2.5"/>
<circle cx="154.0" cy="243.5" r="2.5"/>
<circle cx="155.6" cy="243.5" r="2.5"/>
<circle cx="157.1" cy="243.5" r="2.5"/>
<circle cx="158.6" cy="243.5" r="2.5"/>
<circle cx="160.1" cy="243.5" r="2.5"/>
<circle cx="161.6" cy="243.5" r="2.5"/>
<circle cx="163.1" cy="243.5" r="2.5"/>
<circle cx="164.6" cy="243.5" r="2.5"/>
<circle cx="166.1" cy="243.5" r="2.5"/>
<circle cx="167.6" cy="243.5" r="2.5"/>
<circle cx="169.1" cy="243.5" r="2.5"/>
<circle cx="170.7" cy="243.5" r="2.5"/>
<circle cx="172.2" cy="243.5" r="2.5"/>
<circle cx="173.7" cy="243.5" r="2.5"/>
<circle cx="175.2" cy="243.5" r="2.5"/>
<circle cx="176.7" cy="243.5" r="2.5"/>
<circle cx="178.2" cy="243.5" r="2.5"/>
<circle cx="179.7" cy="243.5" r="2.5"/>
<circle cx="181.2" cy="243.5" r="2.5"/>
<circle cx="188.0" cy="243.5" r="2.5"/>
<circle cx="191.8" cy="243.5" r="2.5"/>
<circle cx="195.5" cy="243.5" r="2.5"/>
<circle cx="199.2" cy="243.5" r="2.5"/>
<circle cx="202.9" cy="243.5" r="2.5"/>
<circle cx="207.8" cy="243.5" r="2.5"/>
<circle cx="207.8" cy="243.5" r="2.5"/>
<circle cx="213.5" cy="243.5" r="2.5"/>
<circle cx="213.5" cy="243.5" r="2.5"/>
<circle cx="220.2" cy="243.5" r="2.5"/>
<circle cx="223.9" cy="243.5" r="2.5"/>
<circle cx="233.8" cy="243.5" r="2.5"/>
<circle cx="233.8" cy="243.5" r="2.5"/>
<circle cx="236.3" cy="243.5" r="2.5"/>
<circle cx="239.2" cy="243.5" r="2.5"/>
<circle cx="249.6" cy="243.5" r="2.5"/>
<circle cx="259.8" cy="243.5" r="2.5"/>
<circle cx="259.8" cy="243.5" r="2.5"/>
<circle cx="262.7" cy="243.5" r="2.5"/>
<circle cx="286.0" cy="243.5" r="2.5"/>
<circle cx="286.0" cy="243.5" r="2.5"/>
<circle cx="311.4" cy="243.5" r="2.5"/>
<circle cx="311.4" cy="243.5" r="2.5"/>
<circle cx="312.9" cy="243.5" r="2.5"/>
<circle cx="315.4" cy="243.5" r="2.5"/>
<circle cx="494.2" cy="243.5" r="2.5"/>
<circle cx="598.0" cy="243.5" r="2.5"/>
<circle cx="89.8" cy="220.1" r="2.5"/>
<circle cx="91.3" cy="220.1" r="2.5"/>
<circle cx="92.8" cy="220.1" r="2.5"/>
<circle cx="94.3" cy="220.1" r="2.5"/>
<circle cx="95.8" cy="220.1" r="2.5"/>
<circle cx="97.3" cy="220.1" r="2.5"/>
<circle cx="98.8" cy="220.1" r="2.5"/>
<circle cx="100.4" cy="220.1" r="2.5"/>
<circle cx="101.9" cy="220.1" r="2.5"/>
<circle cx="103.4" cy="220.1" r="2.5"/>
<circle cx="104.9" cy="220.1" r="2.5"/>
<circle cx="106.4" cy="220.1" r="2.5"/>
<circle cx="107.9" cy="220.1" r="2.5"/>
<circle cx="109.4" cy="220.1" r="2.5"/>
<circle cx="110.9" cy="220.1" r="2.5"/>
<circle cx="112.5" cy="220.1" r="2.5"/>
<circle cx="114.0" cy="220.1" r="2.5"/>
<circle cx="115.5" cy="220.1" r="2.5"/>
<circle cx="117.0" cy="220.1" r="2.5"/>
<circle cx="118.5" cy="220.1" r="2.5"/>
<circle cx="120.0" cy="220.1" r="2.5"/>
<circle cx="121.5" cy="220.1" r="2.5"/>
<circle cx="123.1" cy="220.1" r="2.5"/>
<circle cx="124.6" cy="220.1" r="2.5"/>
<circle cx="126.1" cy="220.1" r="2.5"/>
<circle cx="127.6" cy="220.1" r="2.5"/>
<circle cx="129.1" cy="220.1" r="2.5"/>
<circle cx="130.6" cy="220.1" r="2.5"/>
<circle cx="132.1" cy="220.1" r="2.5"/>
<circle cx="133.7" cy="220.1" r="2.5"/>
<circle cx="135.2" cy="220.1" r="2.5"/>
<circle cx="136.7" cy="220.1" r="2.5"/>
<circle cx="138.2" cy="220.1" r="2.5"/>
<circle cx="139.7" cy="220.1" r="2.5"/>
<circle cx="141.2" cy="220.1" r="2.5"/>
<circle cx="142.7" cy="220.1" r="2.5"/>
<circle cx="144.2" cy="220.1" r="2.5"/>
<circle cx="145.8" cy="220.1" r="2.5"/>
<circle cx="147.3" cy="220.1" r="2.5"/>
<circle cx="148.8" cy="220.1" r="2.5"/>
<circle cx="150.3" cy="220.1" r="2.5"/>
<circle cx="151.8" cy="220.1" r="2.5"/>
<circle cx="153.3" cy="220.1" r="2.5"/>
<circle cx="154.8" cy="220.1" r="2.5"/>
<circle cx="156.4" cy="220.1" r="2.5"/>
<circle cx="157.9" cy="220.1" r="2.5"/>
<circle cx="159.4" cy="220.1" r="2.5"/>
<circle cx="160.9" cy="220.1" r="2.5"/>
<circle cx="162.4" cy="220.1" r="2.5"/>
<circle cx="163.9" cy="220.1" r="2.5"/>
<circle cx="172.0" cy="220.1" r="2.5"/>
<circle cx="175.7" cy="220.1" r="2.5"/>
<circle cx="179.4" cy="220.1" r="2.5"/>
<circle cx="182.1" cy="220.1" r="2.5"/>
<circle cx="182.1" cy="220.1" r="2.5"/>
<circle cx="188.0" cy="220.1" r="2.5"/>
<circle cx="191.8" cy="220.1" r="2.5"/>
<circle cx="200.4" cy="220.1" r="2.5"/>
<circle cx="202.9" cy="220.1" r="2.5"/>
<circle cx="207.8" cy="220.1" r="2.5"/>
<circle cx="207.8" cy="220.1" r="2.5"/>
<circle cx="213.5" cy="220.1" r="2.5"/>
<circle cx="213.5" cy="220.1" r="2.5"/>
<circle cx="219.0" cy="220.1" r="2.5"/>
<circle cx="226.4" cy="220.1" r="2.5"/>
<circle cx="230.1" cy="220.1" r="2.5"/>
<circle cx="233.8" cy="220.1" r="2.5"/>
<circle cx="236.3" cy="220.1" r="2.5"/>
<circle cx="239.2" cy="220.1" r="2.5"/>
<circle cx="245.4" cy="220.1" r="2.5"/>
<circle cx="247.4" cy="220.1" r="2.5"/>
<circle cx="249.4" cy="220.1" r="2.5"/>
<circle cx="251.4" cy="220.1" r="2.5"/>
<circle cx="246.4" cy="220.1" r="2.5"/>
<circle cx="250.4" cy="220.1" r="2.5"/>
<circle cx="259.8" cy="220.1" r="2.5"/>
<circle cx="263.5" cy="220.1" r="2.5"/>
<circle cx="273.1" cy="220.1" r="2.5"/>
<circle cx="283.3" cy="220.1" r="2.5"/>
<circle cx="285.5" cy="220.1" r="2.5"/>
<circle cx="301.6" cy="220.1" r="2.5"/>
<circle cx="311.4" cy="220.1" r="2.5"/>
<circle cx="314.2" cy="220.1" r="2.5"/>
<circle cx="317.1" cy="220.1" r="2.5"/>
<circle cx="322.1" cy="220.1" r="2.5"/>
<circle cx="337.9" cy="220.1" r="2.5"/>
<circle cx="337.9" cy="220.1" r="2.5"/>
<circle cx="363.9" cy="220.1" r="2.5"/>
<circle cx="373.8" cy="220.1" r="2.5"/>
<circle cx="390.1" cy="220.1" r="2.5"/>
<circle cx="416.1" cy="220.1" r="2.5"/>
<circle cx="447.2" cy="220.1" r="2.5"/>
<circle cx="481.1" cy="220.1" r="2.5"/>
<circle cx="232.9" cy="220.1" r="2.5"/>
<circle cx="234.5" cy="220.1" r="2.5"/>
<circle cx="236.0" cy="220.1" r="2.5"/>
<circle cx="180.0" cy="220.1" r="2.5"/>
<circle cx="182.0" cy="220.1" r="2.5"/>
<circle cx="201.2" cy="220.1" r="2.5"/>
<circle cx="207.4" cy="220.1" r="2.5"/>
<circle cx="213.2" cy="220.1" r="2.5"/>
<circle cx="178.5" cy="220.1" r="2.5"/>
<circle cx="180.5" cy="220.1" r="2.5"/>
<circle cx="92.7" cy="196.7" r="2.5"/>
<circle cx="94.2" cy="196.7" r="2.5"/>
<circle cx="95.7" cy="196.7" r="2.5"/>
<circle cx="97.2" cy="196.7" r="2.5"/>
<circle cx="98.7" cy="196.7" r="2.5"/>
<circle cx="100.1" cy="196.7" r="2.5"/>
<circle cx="101.6" cy="196.7" r="2.5"/>
<circle cx="103.1" cy="196.7" r="2.5"/>
<circle cx="104.6" cy="196.7" r="2.5"/>
<circle cx="106.1" cy="196.7" r="2.5"/>
<circle cx="107.6" cy="196.7" r="2.5"/>
<circle cx="109.1" cy="196.7" r="2.5"/>
<circle cx="110.6" cy="196.7" r="2.5"/>
<circle cx="112.0" cy="196.7" r="2.5"/>
<circle cx="113.5" cy="196.7" r="2.5"/>
<circle cx="115.0" cy="196.7" r="2.5"/>
<circle cx="116.5" cy="196.7" r="2.5"/>
<circle cx="118.0" cy="196.7" r="2.5"/>
<circle cx="119.5" cy="196.7" r="2.5"/>
<circle cx="121.0" cy="196.7" r="2.5"/>
<circle cx="122.5" cy="196.7" r="2.5"/>
<circle cx="123.9" cy="196.7" r="2.5"/>
<circle cx="125.4" cy="196.7" r="2.5"/>
<circle cx="126.9" cy="196.7" r="2.5"/>
<circle cx="128.4" cy="196.7" r="2.5"/>
<circle cx="129.9" cy="196.7" r="2.5"/>
<circle cx="137.5" cy="196.7" r="2.5"/>
<circle cx="139.1" cy="196.7" r="2.5"/>
<circle cx="140.6" cy="196.7" r="2.5"/>
<circle cx="142.2" cy="196.7" r="2.5"/>
<circle cx="143.7" cy="196.7" r="2.5"/>
<circle cx="145.2" cy="196.7" r="2.5"/>
<circle cx="146.8" cy="196.7" r="2.5"/>
<circle cx="152.2" cy="196.7" r="2.5"/>
<circle cx="154.7" cy="196.7" r="2.5"/>
<circle cx="169.0" cy="196.7" r="2.5"/>
<circle cx="174.4" cy="196.7" r="2.5"/>
<circle cx="179.4" cy="196.7" r="2.5"/>
<circle cx="182.1" cy="196.7" r="2.5"/>
<circle cx="182.1" cy="196.7" r="2.5"/>
<circle cx="186.8" cy="196.7" r="2.5"/>
<circle cx="192.3" cy="196.7" r="2.5"/>
<circle cx="196.7" cy="196.7" r="2.5"/>
<circle cx="199.2" cy="196.7" r="2.5"/>
<circle cx="202.9" cy="196.7" r="2.5"/>
<circle cx="220.9" cy="196.7" r="2.5"/>
<circle cx="223.9" cy="196.7" r="2.5"/>
<circle cx="241.7" cy="196.7" r="2.5"/>
<circle cx="244.7" cy="196.7" r="2.5"/>
<circle cx="252.3" cy="196.7" r="2.5"/>
<circle cx="260.3" cy="196.7" r="2.5"/>
<circle cx="265.2" cy="196.7" r="2.5"/>
<circle cx="268.2" cy="196.7" r="2.5"/>
<circle cx="286.0" cy="196.7" r="2.5"/>
<circle cx="286.0" cy="196.7" r="2.5"/>
<circle cx="286.0" cy="196.7" r="2.5"/>
<circle cx="325.0" cy="196.7" r="2.5"/>
<circle cx="325.0" cy="196.7" r="2.5"/>
<circle cx="325.0" cy="196.7" r="2.5"/>
<circle cx="335.7" cy="196.7" r="2.5"/>
<circle cx="353.5" cy="196.7" r="2.5"/>
<circle cx="387.6" cy="196.7" r="2.5"/>
<circle cx="405.7" cy="196.7" r="2.5"/>
<circle cx="434.4" cy="196.7" r="2.5"/>
<circle cx="478.4" cy="196.7" r="2.5"/>
<circle cx="504.3" cy="196.7" r="2.5"/>
<circle cx="137.4" cy="173.3" r="2.5"/>
<circle cx="143.0" cy="173.3" r="2.5"/>
<circle cx="143.0" cy="173.3" r="2.5"/>
<circle cx="148.5" cy="173.3" r="2.5"/>
<circle cx="151.0" cy="173.3" r="2.5"/>
<circle cx="156.4" cy="173.3" r="2.5"/>
<circle cx="169.0" cy="173.3" r="2.5"/>
<circle cx="172.0" cy="173.3" r="2.5"/>
<circle cx="176.9" cy="173.3" r="2.5"/>
<circle cx="207.8" cy="173.3" r="2.5"/>
<circle cx="207.8" cy="173.3" r="2.5"/>
<circle cx="228.9" cy="173.3" r="2.5"/>
<circle cx="102.7" cy="173.3" r="2.5"/>
<circle cx="104.7" cy="173.3" r="2.5"/>
<circle cx="106.4" cy="173.3" r="2.5"/>
<circle cx="108.2" cy="173.3" r="2.5"/>
<circle cx="110.1" cy="173.3" r="2.5"/>
<circle cx="112.1" cy="173.3" r="2.5"/>
<circle cx="113.9" cy="173.3" r="2.5"/>
<circle cx="115.6" cy="173.3" r="2.5"/>
<circle cx="117.6" cy="173.3" r="2.5"/>
<circle cx="120.0" cy="173.3" r="2.5"/>
<circle cx="122.5" cy="173.3" r="2.5"/>
<circle cx="124.5" cy="173.3" r="2.5"/>
<circle cx="126.2" cy="173.3" r="2.5"/>
<circle cx="127.5" cy="173.3" r="2.5"/>
<circle cx="129.2" cy="173.3" r="2.5"/>
<circle cx="131.2" cy="173.3" r="2.5"/>
<circle cx="103.7" cy="173.3" r="2.5"/>
<circle cx="105.7" cy="173.3" r="2.5"/>
<circle cx="109.2" cy="173.3" r="2.5"/>
<circle cx="111.1" cy="173.3" r="2.5"/>
<circle cx="113.1" cy="173.3" r="2.5"/>
<circle cx="116.6" cy="173.3" r="2.5"/>
<circle cx="123.5" cy="173.3" r="2.5"/>
<circle cx="125.5" cy="173.3" r="2.5"/>
<circle cx="127.0" cy="173.3" r="2.5"/>
<circle cx="128.4" cy="173.3" r="2.5"/>
<circle cx="306.0" cy="173.3" r="2.5"/>
<circle cx="309.0" cy="173.3" r="2.5"/>
<circle cx="311.9" cy="173.3" r="2.5"/>
<circle cx="325.5" cy="173.3" r="2.5"/>
<circle cx="330.7" cy="173.3" r="2.5"/>
<circle cx="364.1" cy="173.3" r="2.5"/>
<circle cx="364.1" cy="173.3" r="2.5"/>
<circle cx="376.5" cy="173.3" r="2.5"/>
<circle cx="410.4" cy="173.3" r="2.5"/>
<circle cx="416.1" cy="173.3" r="2.5"/>
<circle cx="441.0" cy="173.3" r="2.5"/>
<circle cx="481.1" cy="173.3" r="2.5"/>
<circle cx="494.2" cy="173.3" r="2.5"/>
<circle cx="538.7" cy="173.3" r="2.5"/>
<circle cx="192.6" cy="173.3" r="2.5"/>
<circle cx="194.0" cy="173.3" r="2.5"/>
<circle cx="143.0" cy="150.0" r="2.5"/>
<circle cx="143.0" cy="150.0" r="2.5"/>
<circle cx="151.0" cy="150.0" r="2.5"/>
<circle cx="156.6" cy="150.0" r="2.5"/>
<circle cx="159.1" cy="150.0" r="2.5"/>
<circle cx="207.8" cy="150.0" r="2.5"/>
<circle cx="207.8" cy="150.0" r="2.5"/>
<circle cx="215.7" cy="150.0" r="2.5"/>
<circle cx="234.8" cy="150.0" r="2.5"/>
<circle cx="237.3" cy="150.0" r="2.5"/>
<circle cx="109.0" cy="150.0" r="2.5"/>
<circle cx="114.2" cy="150.0" r="2.5"/>
<circle cx="116.1" cy="150.0" r="2.5"/>
<circle cx="118.0" cy="150.0" r="2.5"/>
<circle cx="127.2" cy="150.0" r="2.5"/>
<circle cx="129.4" cy="150.0" r="2.5"/>
<circle cx="131.3" cy="150.0" r="2.5"/>
<circle cx="135.4" cy="150.0" r="2.5"/>
<circle cx="494.2" cy="150.0" r="2.5"/>
<circle cx="520.2" cy="150.0" r="2.5"/>
<circle cx="100.8" cy="126.6" r="2.5"/>
<circle cx="117.1" cy="126.6" r="2.5"/>
<circle cx="129.9" cy="126.6" r="2.5"/>
<circle cx="143.0" cy="126.6" r="2.5"/>
<circle cx="160.8" cy="126.6" r="2.5"/>
<circle cx="200.2" cy="126.6" r="2.5"/>
<circle cx="208.1" cy="126.6" r="2.5"/>
<circle cx="229.6" cy="126.6" r="2.5"/>
<circle cx="306.7" cy="126.6" r="2.5"/>
<circle cx="369.3" cy="126.6" r="2.5"/>
<circle cx="494.2" cy="126.6" r="2.5"/>
<circle cx="119.5" cy="103.2" r="2.5"/>
<circle cx="182.1" cy="103.2" r="2.5"/>
<circle cx="311.9" cy="103.2" r="2.5"/>
<circle cx="317.4" cy="103.2" r="2.5"/>
<circle cx="518.9" cy="103.2" r="2.5"/>
</g>
<g stroke="#ff0000" stroke-width="6.9" stroke-linecap="round" fill="none"><line x1="79.5" y1="570.5" x2="91.6" y2="570.5" stroke-width="7"/><line x1="80.0" y1="547.5" x2="99.6" y2="547.5" stroke-width="7"/><line x1="80.0" y1="523.5" x2="103.3" y2="523.5" stroke-width="7"/><line x1="80.0" y1="500.5" x2="110.8" y2="500.5" stroke-width="7"/><line x1="80.0" y1="477.5" x2="115.7" y2="477.5" stroke-width="7"/><line x1="80.0" y1="453.5" x2="123.1" y2="453.5" stroke-width="7"/><line x1="80.0" y1="430.5" x2="124.4" y2="430.5" stroke-width="7"/><line x1="80.0" y1="407.5" x2="130.5" y2="407.5" stroke-width="7"/><line x1="80.0" y1="383.5" x2="154.0" y2="383.5" stroke-width="7"/><line x1="80.0" y1="360.5" x2="149.1" y2="360.5" stroke-width="7"/><line x1="80.0" y1="336.5" x2="154.0" y2="336.5" stroke-width="7"/><line x1="80.0" y1="313.5" x2="157.7" y2="313.5" stroke-width="7"/><line x1="84.8" y1="290.5" x2="162.7" y2="290.5" stroke-width="7"/><line x1="85.6" y1="266.5" x2="160.2" y2="266.5" stroke-width="7"/><line x1="86.0" y1="243.5" x2="181.2" y2="243.5" stroke-width="7"/><line x1="89.8" y1="220.5" x2="163.9" y2="220.5" stroke-width="7"/><line x1="92.7" y1="196.5" x2="129.9" y2="196.5" stroke-width="7"/><line x1="137.5" y1="196.5" x2="146.8" y2="196.5" stroke-width="7"/></g>
<polyline points="384.7,103.2 223.4,126.6 228.9,150.0 193.0,173.3 160.3,196.7 135.5,220.1 119.6,243.5 110.2,266.8 104.8,290.2 100.3,313.6 97.4,336.9 94.9,360.3 92.4,383.7 90.9,407.0 89.7,430.4 88.7,453.8 88.2,477.1 88.0,500.5 87.7,523.9 87.5,547.3 87.2,570.6" fill="none" stroke="#0000ff" stroke-width="3.75" stroke-linejoin="bevel"/>
<g fill="#0000ff" stroke="#0000ff" stroke-width="1.25">
<circle cx="384.7" cy="103.2" r="4.1"/>
<circle cx="223.4" cy="126.6" r="4.1"/>
<circle cx="228.9" cy="150.0" r="4.1"/>
<circle cx="193.0" cy="173.3" r="4.1"/>
<circle cx="160.3" cy="196.7" r="4.1"/>
<circle cx="135.5" cy="220.1" r="4.1"/>
<circle cx="119.6" cy="243.5" r="4.1"/>
<circle cx="110.2" cy="266.8" r="4.1"/>
<circle cx="104.8" cy="290.2" r="4.1"/>
<circle cx="100.3" cy="313.6" r="4.1"/>
<circle cx="97.4" cy="336.9" r="4.1"/>
<circle cx="94.9" cy="360.3" r="4.1"/>
<circle cx="92.4" cy="383.7" r="4.1"/>
<circle cx="90.9" cy="407.0" r="4.1"/>
<circle cx="89.7" cy="430.4" r="4.1"/>
<circle cx="88.7" cy="453.8" r="4.1"/>
<circle cx="88.2" cy="477.1" r="4.1"/>
<circle cx="88.0" cy="500.5" r="4.1"/>
<circle cx="87.7" cy="523.9" r="4.1"/>
<circle cx="87.5" cy="547.3" r="4.1"/>
<circle cx="87.2" cy="570.6" r="4.1"/>
</g>
<circle cx="130.1" cy="336.9" r="9.4" fill="#008000" stroke="#008000" stroke-width="1.25"/>
</g>
<g stroke="#000" stroke-width="1.25" fill="none">
<line x1="78.125" y1="32.525" x2="78.125" y2="571.225"/>
<line x1="77.525" y1="570.625" x2="598.725" y2="570.625"/>
<line x1="78.125" y1="568.125" x2="78.12" y2="578.125"/>
<line x1="99.375" y1="570.625" x2="99.38" y2="575.625"/>
<line x1="119.375" y1="570.625" x2="119.38" y2="575.625"/>
<line x1="140.625" y1="570.625" x2="140.62" y2="575.625"/>
<line x1="161.875" y1="570.625" x2="161.88" y2="575.625"/>
<line x1="181.875" y1="568.125" x2="181.88" y2="578.125"/>
<line x1="203.125" y1="570.625" x2="203.12" y2="575.625"/>
<line x1="223.125" y1="570.625" x2="223.12" y2="575.625"/>
<line x1="244.375" y1="570.625" x2="244.38" y2="575.625"/>
<line x1="265.625" y1="570.625" x2="265.62" y2="575.625"/>
<line x1="285.625" y1="568.125" x2="285.62" y2="578.125"/>
<line x1="306.875" y1="570.625" x2="306.88" y2="575.625"/>
<line x1="328.125" y1="570.625" x2="328.12" y2="575.625"/>
<line x1="348.125" y1="570.625" x2="348.12" y2="575.625"/>
<line x1="369.375" y1="570.625" x2="369.38" y2="575.625"/>
<line x1="390.625" y1="568.125" x2="390.62" y2="578.125"/>
<line x1="410.625" y1="570.625" x2="410.62" y2="575.625"/>
<line x1="431.875" y1="570.625" x2="431.88" y2="575.625"/>
<line x1="453.125" y1="570.625" x2="453.12" y2="575.625"/>
<line x1="473.125" y1="570.625" x2="473.12" y2="575.625"/>
<line x1="494.375" y1="568.125" x2="494.38" y2="578.125"/>
<line x1="514.375" y1="570.625" x2="514.38" y2="575.625"/>
<line x1="535.625" y1="570.625" x2="535.62" y2="575.625"/>
<line x1="556.875" y1="570.625" x2="556.88" y2="575.625"/>
<line x1="576.875" y1="570.625" x2="576.88" y2="575.625"/>
<line x1="598.125" y1="568.125" x2="598.12" y2="578.125"/>
<line x1="70.625" y1="570.62" x2="80.625" y2="570.62"/>
<line x1="73.125" y1="546.88" x2="78.125" y2="546.88"/>
<line x1="73.125" y1="524.38" x2="78.125" y2="524.38"/>
<line x1="73.125" y1="500.62" x2="78.125" y2="500.62"/>
<line x1="73.125" y1="476.88" x2="78.125" y2="476.88"/>
<line x1="70.625" y1="454.38" x2="80.625" y2="454.38"/>
<line x1="73.125" y1="430.62" x2="78.125" y2="430.62"/>
<line x1="73.125" y1="406.88" x2="78.125" y2="406.88"/>
<line x1="73.125" y1="383.12" x2="78.125" y2="383.12"/>
<line x1="73.125" y1="360.62" x2="78.125" y2="360.62"/>
<line x1="70.625" y1="336.88" x2="80.625" y2="336.88"/>
<line x1="73.125" y1="313.12" x2="78.125" y2="313.12"/>
<line x1="73.125" y1="290.62" x2="78.125" y2="290.62"/>
<line x1="73.125" y1="266.88" x2="78.125" y2="266.88"/>
<line x1="73.125" y1="243.12" x2="78.125" y2="243.12"/>
<line x1="70.625" y1="220.62" x2="80.625" y2="220.62"/>
<line x1="73.125" y1="196.88" x2="78.125" y2="196.88"/>
<line x1="73.125" y1="173.12" x2="78.125" y2="173.12"/>
<line x1="73.125" y1="149.38" x2="78.125" y2="149.38"/>
<line x1="73.125" y1="126.88" x2="78.125" y2="126.88"/>
<line x1="70.625" y1="103.12" x2="80.625" y2="103.12"/>
<line x1="73.125" y1="79.38" x2="78.125" y2="79.38"/>
<line x1="73.125" y1="56.88" x2="78.125" y2="56.88"/>
<line x1="73.125" y1="33.12" x2="78.125" y2="33.12"/>
</g>
<g font-size="13.75px">
<text x="78.12" y="593.7" text-anchor="middle">0</text>
<text x="181.88" y="593.7" text-anchor="middle">200</text>
<text x="285.62" y="593.7" text-anchor="middle">400</text>
<text x="390.62" y="593.7" text-anchor="middle">600</text>
<text x="494.38" y="593.7" text-anchor="middle">800</text>
<text x="598.12" y="593.7" text-anchor="middle">1000</text>
<text x="64.2" y="575.92" text-anchor="end">80</text>
<text x="64.2" y="459.68" text-anchor="end">85</text>
<text x="64.2" y="342.18" text-anchor="end">90</text>
<text x="64.2" y="225.93" text-anchor="end">95</text>
<text x="64.2" y="108.42" text-anchor="end">100</text>
</g>
<text x="338.5" y="618.9" text-anchor="middle" font-size="16.25px" font-style="italic">Price in USD</text>
<text transform="translate(28.3,301) rotate(-90)" text-anchor="middle" font-size="16.25px" font-style="italic">Quality (out of 100)</text>
<text x="78" y="22.6" font-size="17px" font-weight="bold">Wine Data</text>
<g id="toolbar">
<rect x="597.9" y="64.1" width="2.2" height="37" fill="#26aae1"/>
<rect x="597.9" y="293" width="2.2" height="37" fill="#26aae1"/>
<g filter="url(#lb)">
<polygon points="614.03,41.80 612.81,35.91 614.32,33.91 616.55,32.90 619.11,34.29 620.70,36.08 617.39,41.08" fill="#0aa14b"/>
<polygon points="617.31,41.07 620.62,36.05 623.09,35.70 625.39,36.56 626.22,39.36 626.07,41.74 620.20,42.94" fill="#0aa7a0"/>
<polygon points="620.15,42.88 626.04,41.66 628.04,43.17 629.05,45.40 627.66,47.96 625.87,49.55 620.87,46.24" fill="#2ea9e0"/>
<polygon points="620.88,46.16 625.90,49.47 626.25,51.94 625.39,54.24 622.59,55.07 620.21,54.92 619.01,49.05" fill="#7d2b8f"/>
<polygon points="619.07,49.00 620.29,54.89 618.78,56.89 616.55,57.90 613.99,56.51 612.40,54.72 615.71,49.72" fill="#ec0f6a"/>
<polygon points="615.79,49.73 612.48,54.75 610.01,55.10 607.71,54.24 606.88,51.44 607.03,49.06 612.90,47.86" fill="#f15a29"/>
<polygon points="612.95,47.92 607.06,49.14 605.06,47.63 604.05,45.40 605.44,42.84 607.23,41.25 612.23,44.56" fill="#f9a21b"/>
<polygon points="612.22,44.64 607.20,41.33 606.85,38.86 607.71,36.56 610.51,35.73 612.89,35.88 614.09,41.75" fill="#a5ce39"/>
</g>
<path d="M616.45,70.80000000000001 l4.7,4.9 h-3.5 V81.2 H623.1500000000001 v-3.5 l4.9,4.7 l-4.9,4.7 v-3.5 H617.6500000000001 V89.1 h3.5 l-4.7,4.9 l-4.7,-4.9 h3.5 V83.60000000000001 H609.75 v3.5 l-4.9,-4.7 l4.9,-4.7 v3.5 H615.25 V75.70000000000002 h-3.5 Z" fill="#a0a6aa"/>
<g fill="none" stroke="#a0a6aa">
<path d="M606,131 V109.2" stroke-width="1.3" stroke-dasharray="2.6,1.7"/>
<path d="M605.3,130.2 H628" stroke-width="1.3" stroke-dasharray="2.6,1.75"/>
<path d="M608,110 H615" stroke-width="1.3" stroke-dasharray="2.6,1.6"/>
<path d="M627.2,124.2 V131" stroke-width="1.3" stroke-dasharray="2.6,1.6"/>
<circle cx="621.0" cy="115.9" r="5.7" stroke-width="2.6"/>
<path d="M617.2,119.9 L609.9,126.4" stroke-width="2.7"/>
</g>
<rect x="610.1" y="138.88" width="12.8" height="1.25" fill="#cfcfcf"/>
<rect x="610.1" y="177.78" width="12.8" height="1.25" fill="#cfcfcf"/>
<rect x="610.1" y="291.00" width="12.8" height="1.8" fill="#cfcfcf"/>
<g fill="none" stroke="#a0a6aa">
<rect x="606.05" y="151.8" width="7.75" height="14.2" rx="3.9" ry="4.4" stroke-width="1.9"/>
<circle cx="622.0" cy="155.4" r="4.7" stroke-width="2.3"/>
<path d="M620.0,160.2 L617.5,166.8" stroke-width="2.3"/>
</g>
<path d="M608.3,157.2 l1.6,-1.4 l1.6,1.4 Z M608.3,159.6 l1.6,1.4 l1.6,-1.4 Z" fill="#a0a6aa"/>
<g fill="none" stroke="#a0a6aa" stroke-width="1.3">
<rect x="605.75" y="186.65" width="21.45" height="21.55"/>
<path d="M610.05,186.65 V194.2 q0,1 1,1 H622.25 q1,0 1,-1 V186.65"/>
</g>
<rect x="617.95" y="189.1" width="2.95" height="3.8" fill="#a0a6aa"/>
<path d="M610.28,230.71 A7.5,7.5 0 0 1 623.78,233.09" fill="none" stroke="#a0a6aa" stroke-width="2.4"/>
<path d="M621.00,233.00 L627.80,232.80 L624.40,236.10 Z" fill="#a0a6aa"/>
<path d="M622.72,239.09 A7.5,7.5 0 0 1 609.22,236.71" fill="none" stroke="#a0a6aa" stroke-width="2.4"/>
<path d="M612.00,236.80 L605.20,237.00 L608.60,233.70 Z" fill="#a0a6aa"/>
<circle cx="616.5" cy="272.4" r="10.65" fill="none" stroke="#a0a6aa" stroke-width="1.9"/>
<text x="616.3" y="279.4" text-anchor="middle" font-size="19.5px" font-weight="bold" style="fill:#a0a6aa">?</text>
<path d="M609.6,303.3 H623.2 q1,0 1,1 V315.2 q0,1 -1,1 H621.6 L616.45,320.8 L611.2,316.2 H609.6 q-1,0 -1,-1 V304.3 q0,-1 1,-1 Z" fill="none" stroke="#8d949a" stroke-width="1.2"/>
<rect x="611" y="306.20" width="11.1" height="1.4" fill="#8d949a"/>
<rect x="611" y="309.30" width="11.1" height="1.4" fill="#8d949a"/>
<rect x="611" y="312.20" width="11.1" height="1.4" fill="#8d949a"/>
</g>
</svg></body></html>
